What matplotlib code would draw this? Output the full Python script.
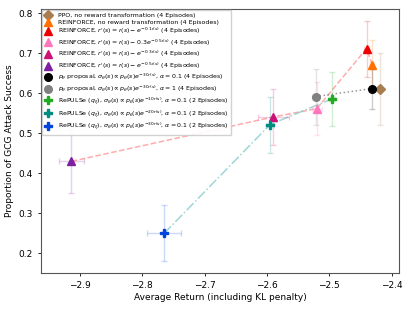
import matplotlib
matplotlib.use('Agg')

import matplotlib.pyplot as plt
import numpy as np

labels = [
    'PPO, no reward transformation (4 Episodes)',
    'REINFORCE, no reward transformation (4 Episodes)',
    r"REINFORCE, $r'(s) = r(s) - e^{-0.1r(s)}$ (4 Episodes)",
    r"REINFORCE, $r'(s) = r(s) - 0.3e^{-0.5r(s)}$ (4 Episodes)",
    r"REINFORCE, $r'(s) = r(s) - e^{-0.3r(s)}$ (4 Episodes)",
    r"REINFORCE, $r'(s) = r(s) - e^{-0.5r(s)}$ (4 Episodes)",
    r"$p_\theta$ proposal, $\sigma_\theta(s) \propto p_\theta(s)e^{-30r(s)}$, $\alpha = 0.1$ (4 Episodes)",
    r"$p_\theta$ proposal, $\sigma_\theta(s) \propto p_\theta(s)e^{-30r(s)}$, $\alpha = 1$ (4 Episodes)",
    r"RePULSe ($q_\xi$), $\sigma_\theta(s) \propto p_\theta(s)e^{-10r(s)}$, $\alpha = 0.1$ (2 Episodes)",
    r"RePULSe ($q_\xi$), $\sigma_\theta(s) \propto p_\theta(s)e^{-20r(s)}$, $\alpha = 0.1$ (2 Episodes)",
    r"RePULSe ($q_\xi$), $\sigma_\theta(s) \propto p_\theta(s)e^{-30r(s)}$, $\alpha = 0.1$ (2 Episodes)",
]
returns = [-2.419, -2.431, -2.440, -2.520, -2.590, -2.914, -2.431, -2.522, -2.496, -2.595, -2.765]
success = [0.612, 0.672, 0.712, 0.562, 0.541, 0.430, 0.612, 0.592, 0.586, 0.522, 0.250]
return_err = [0.003, 0.003, 0.004, 0.008, 0.025, 0.020, 0.003, 0.005, 0.005, 0.006, 0.027]
success_err = [0.090, 0.062, 0.070, 0.066, 0.070, 0.080, 0.050, 0.070, 0.068, 0.070, 0.070]

colors = ['#a87d50', '#ff7000', '#ee0000', '#ff77bb', '#cc1177', '#7d1fa0',
          'black', 'gray', '#22aa22', '#008b80', '#0044dd']
markers = ['D', '^', '^', '^', '^', '^', 'o', 'o', 'P', 'P', 'P']

# which points are joined by lines
reinforce_line = [1, 2, 3, 4, 5]
proposal_line = [7, 6, 0]
repulse_line = [10, 9, 8]

fig = plt.figure(figsize=(4.12, 3.09), dpi=100)
ax = fig.add_axes([0.0995, 0.1165, 0.8685, 0.8545])

ax.plot([returns[i] for i in reinforce_line], [success[i] for i in reinforce_line],
        linestyle='--', color='#ff9090', alpha=0.75, linewidth=1.1, zorder=1)
ax.plot([returns[i] for i in proposal_line], [success[i] for i in proposal_line],
        linestyle=':', color='gray', alpha=0.8, linewidth=1.1, zorder=1)
ax.plot([returns[i] for i in repulse_line], [success[i] for i in repulse_line],
        linestyle='-.', color='#88cccc', alpha=0.8, linewidth=1.1, zorder=1)

for i in range(len(labels)):
    ax.errorbar(returns[i], success[i], xerr=return_err[i], yerr=success_err[i],
                color=colors[i], alpha=0.2, capsize=2, elinewidth=1, capthick=1,
                linestyle='none', zorder=2)
    ax.plot(returns[i], success[i], marker=markers[i], color=colors[i],
            markersize=5.5, linestyle='none', label=labels[i], zorder=3)

ax.set_xlim(-2.9626, -2.3883)
ax.set_ylim(0.151, 0.811)
ax.set_xticks([-2.9, -2.8, -2.7, -2.6, -2.5, -2.4])
ax.set_yticks([0.2, 0.3, 0.4, 0.5, 0.6, 0.7, 0.8])
ax.tick_params(labelsize=6.5, length=2.5, width=0.6)
ax.set_xlabel('Average Return (including KL penalty)', fontsize=6.5, labelpad=2)
ax.set_ylabel('Proportion of GCG Attack Success', fontsize=6.5, labelpad=3)
for s in ax.spines.values():
    s.set_linewidth(0.8)
    s.set_color('#555555')

ax.legend(loc='upper left', fontsize=4.5, markerscale=1.0, handlelength=1.2,
          borderpad=0.4, labelspacing=0.2, handletextpad=0.9, framealpha=0.9,
          borderaxespad=0.2)

fig.savefig('out.png', dpi=100)
